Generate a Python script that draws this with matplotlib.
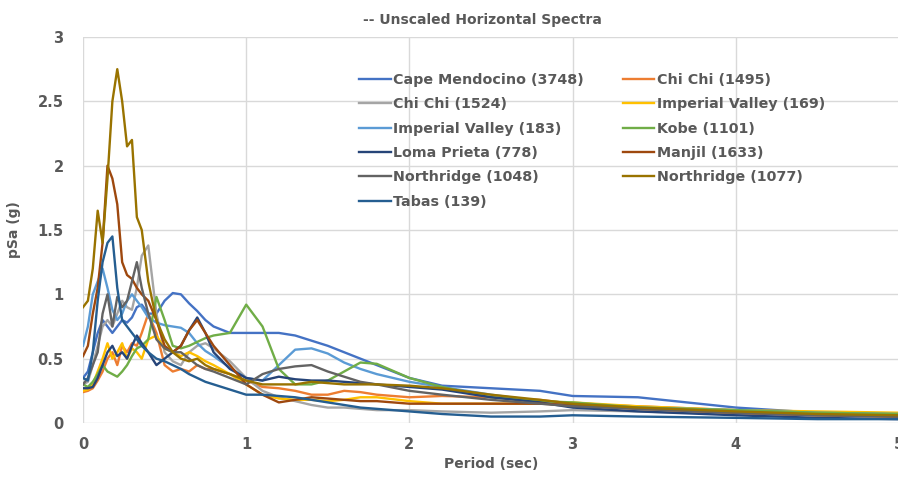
import matplotlib
matplotlib.use("Agg")
import matplotlib.pyplot as plt

periods = [0.0, 0.03, 0.06, 0.09, 0.12, 0.15, 0.18, 0.21, 0.24, 0.27, 0.30, 0.33, 0.36,
           0.40, 0.45, 0.50, 0.55, 0.60, 0.65, 0.70, 0.75, 0.80,
           0.90, 1.00, 1.10, 1.20, 1.30, 1.40, 1.50, 1.60, 1.70, 1.80,
           2.00, 2.20, 2.50, 2.80, 3.00, 3.40, 4.00, 4.50, 5.00]

cape_mendocino_3748 = [0.35, 0.4, 0.55, 0.7, 0.8, 0.75, 0.7, 0.75, 0.8, 0.78, 0.82, 0.9, 0.92,
                       0.85, 0.85, 0.95, 1.01, 1.0, 0.93, 0.87, 0.8, 0.75,
                       0.7, 0.7, 0.7, 0.7, 0.68, 0.64, 0.6, 0.55, 0.5, 0.45,
                       0.35, 0.29, 0.27, 0.25, 0.21, 0.2, 0.12, 0.08, 0.07]
chi_chi_1495 = [0.24, 0.25, 0.27, 0.33, 0.4, 0.5, 0.55, 0.45, 0.6, 0.55, 0.62, 0.6, 0.7,
                0.85, 0.7, 0.45, 0.4, 0.42, 0.4, 0.45, 0.42, 0.42,
                0.38, 0.33, 0.28, 0.27, 0.25, 0.22, 0.22, 0.25, 0.24, 0.22,
                0.2, 0.21, 0.2, 0.18, 0.15, 0.13, 0.1, 0.07, 0.05]
chi_chi_1524 = [0.3, 0.32, 0.45, 0.6, 0.75, 0.8, 0.75, 0.85, 0.95, 0.9, 0.88, 1.05, 1.3,
                1.38, 0.85, 0.55, 0.48, 0.45, 0.55, 0.6, 0.62, 0.58,
                0.48, 0.35, 0.25, 0.2, 0.17, 0.14, 0.12, 0.12, 0.11, 0.1,
                0.1, 0.09, 0.08, 0.09, 0.1, 0.09, 0.07, 0.06, 0.05]
imperial_valley_169 = [0.25, 0.26, 0.3, 0.4, 0.5, 0.62, 0.5, 0.55, 0.62, 0.5, 0.58, 0.55, 0.5,
                       0.65, 0.68, 0.58, 0.55, 0.52, 0.55, 0.52, 0.48, 0.45,
                       0.38, 0.3, 0.22, 0.19, 0.18, 0.18, 0.17, 0.18, 0.2, 0.2,
                       0.17, 0.15, 0.15, 0.15, 0.16, 0.13, 0.1, 0.09, 0.08]
imperial_valley_183 = [0.6, 0.75, 1.0, 1.1, 1.2, 1.05, 0.88, 0.8, 0.85, 0.95, 1.0, 0.95, 0.9,
                       0.82, 0.78, 0.76, 0.75, 0.74, 0.7, 0.62, 0.56, 0.52,
                       0.43, 0.35, 0.33, 0.45, 0.57, 0.58, 0.54, 0.47, 0.42, 0.38,
                       0.32, 0.28, 0.22, 0.17, 0.15, 0.12, 0.1, 0.08, 0.07]
kobe_1101 = [0.3, 0.28, 0.32, 0.38, 0.45, 0.4, 0.38, 0.36, 0.4, 0.45, 0.52, 0.58, 0.6,
             0.65, 0.98, 0.8, 0.6, 0.58, 0.6, 0.63, 0.66, 0.68,
             0.7, 0.92, 0.75, 0.42, 0.3, 0.3, 0.33, 0.4, 0.47, 0.46,
             0.35, 0.28, 0.2, 0.17, 0.16, 0.12, 0.1, 0.08, 0.07]
loma_prieta_778 = [0.27, 0.27, 0.28, 0.35, 0.45, 0.55, 0.6, 0.52, 0.55, 0.5, 0.6, 0.68, 0.62,
                   0.55, 0.45, 0.5, 0.55, 0.6, 0.72, 0.82, 0.7, 0.55,
                   0.42, 0.35, 0.33, 0.36, 0.34, 0.33, 0.33, 0.32, 0.31, 0.3,
                   0.28, 0.26, 0.2, 0.16, 0.12, 0.09, 0.06, 0.04, 0.03]
manjil_1633 = [0.52, 0.6, 0.85, 1.05, 1.4, 2.0, 1.9, 1.7, 1.25, 1.15, 1.12, 1.05, 1.0,
               0.95, 0.8, 0.6, 0.55, 0.6, 0.72, 0.8, 0.7, 0.6,
               0.45, 0.3, 0.22, 0.16, 0.18, 0.2, 0.19, 0.18, 0.17, 0.17,
               0.15, 0.15, 0.15, 0.15, 0.14, 0.11, 0.08, 0.06, 0.05]
northridge_1048 = [0.3, 0.35, 0.45, 0.55, 0.85, 1.0, 0.75, 0.98, 0.9, 0.95, 1.1, 1.25, 1.05,
                   0.85, 0.65, 0.58, 0.55, 0.55, 0.5, 0.45, 0.42, 0.4,
                   0.35, 0.3, 0.38, 0.42, 0.44, 0.45, 0.4, 0.36, 0.32, 0.3,
                   0.25, 0.22, 0.18, 0.15, 0.13, 0.11, 0.08, 0.06, 0.05]
northridge_1077 = [0.9, 0.95, 1.2, 1.65, 1.4, 1.9, 2.5, 2.75, 2.5, 2.15, 2.2, 1.6, 1.5,
                   1.1, 0.8, 0.65, 0.55, 0.5, 0.48, 0.5, 0.45, 0.42,
                   0.38, 0.33, 0.3, 0.3, 0.3, 0.32, 0.31, 0.3, 0.3, 0.3,
                   0.29, 0.27, 0.22, 0.18, 0.15, 0.12, 0.09, 0.07, 0.06]
tabas_139 = [0.35, 0.33, 0.55, 0.95, 1.25, 1.4, 1.45, 1.05, 0.8, 0.75, 0.7, 0.65, 0.6,
             0.55, 0.5, 0.48, 0.45, 0.42, 0.38, 0.35, 0.32, 0.3,
             0.26, 0.22, 0.22, 0.21, 0.2, 0.18, 0.16, 0.14, 0.12, 0.11,
             0.09, 0.07, 0.05, 0.05, 0.06, 0.05, 0.04, 0.03, 0.03]

series_names = ["Cape Mendocino (3748)", "Chi Chi (1495)", "Chi Chi (1524)",
                "Imperial Valley (169)", "Imperial Valley (183)", "Kobe (1101)",
                "Loma Prieta (778)", "Manjil (1633)", "Northridge (1048)",
                "Northridge (1077)", "Tabas (139)"]
series_values = [cape_mendocino_3748, chi_chi_1495, chi_chi_1524, imperial_valley_169,
                 imperial_valley_183, kobe_1101, loma_prieta_778, manjil_1633,
                 northridge_1048, northridge_1077, tabas_139]
colors = ["#4472C4", "#ED7D31", "#A5A5A5", "#FFC000", "#5B9BD5", "#70AD47",
          "#264478", "#9E480E", "#636363", "#997300", "#255E91"]

x_ticks = [0, 1, 2, 3, 4, 5]
y_ticks = [0, 0.5, 1, 1.5, 2, 2.5, 3]
y_tick_labels = ["0", "0.5", "1", "1.5", "2", "2.5", "3"]

W, H = 898, 479
fig = plt.figure(figsize=(W / 100, H / 100), dpi=100)
ax = fig.add_axes([83 / W, (H - 423) / H, (899 - 83) / W, (423 - 37) / H])

handles = []
for name, vals, c in zip(series_names, series_values, colors):
    h, = ax.plot(periods, vals, color=c, lw=1.7, label=name, solid_joinstyle="round")
    handles.append(h)

ax.set_xlim(0, 5)
ax.set_ylim(0, 3)
ax.set_xticks(x_ticks)
ax.set_yticks(y_ticks)
ax.set_yticklabels(y_tick_labels)
ax.grid(True, color="#D9D9D9", lw=1.0)
ax.set_axisbelow(True)
for s in ax.spines.values():
    s.set_visible(False)
ax.tick_params(length=0, labelsize=10.5, labelcolor="#595959")
ax.tick_params(axis="x", pad=10)
ax.tick_params(axis="y", pad=14)
for lab in ax.get_xticklabels() + ax.get_yticklabels():
    lab.set_fontweight("bold")

ax.set_xlabel("Period (sec)", fontsize=10, fontweight="bold", color="#595959", labelpad=4)
ax.set_ylabel("pSa (g)", fontsize=10, fontweight="bold", color="#595959", labelpad=12)

fig.text(482 / W, 1 - 20 / H, "-- Unscaled Horizontal Spectra", ha="center", va="center",
         fontsize=10, fontweight="bold", color="#595959")

order = [0, 2, 4, 6, 8, 10, 1, 3, 5, 7, 9]
leg = fig.legend([handles[i] for i in order], [series_names[i] for i in order],
                 ncol=2, loc="upper left", bbox_to_anchor=(352 / W, 1 - 66 / H),
                 frameon=False, fontsize=10.3, handlelength=2.2, handletextpad=0.2,
                 columnspacing=2.7, labelspacing=0.72, borderpad=0)
for t in leg.get_texts():
    t.set_color("#595959")
    t.set_fontweight("bold")
for l in leg.get_lines():
    l.set_linewidth(1.7)

fig.savefig("out.png", dpi=100)
